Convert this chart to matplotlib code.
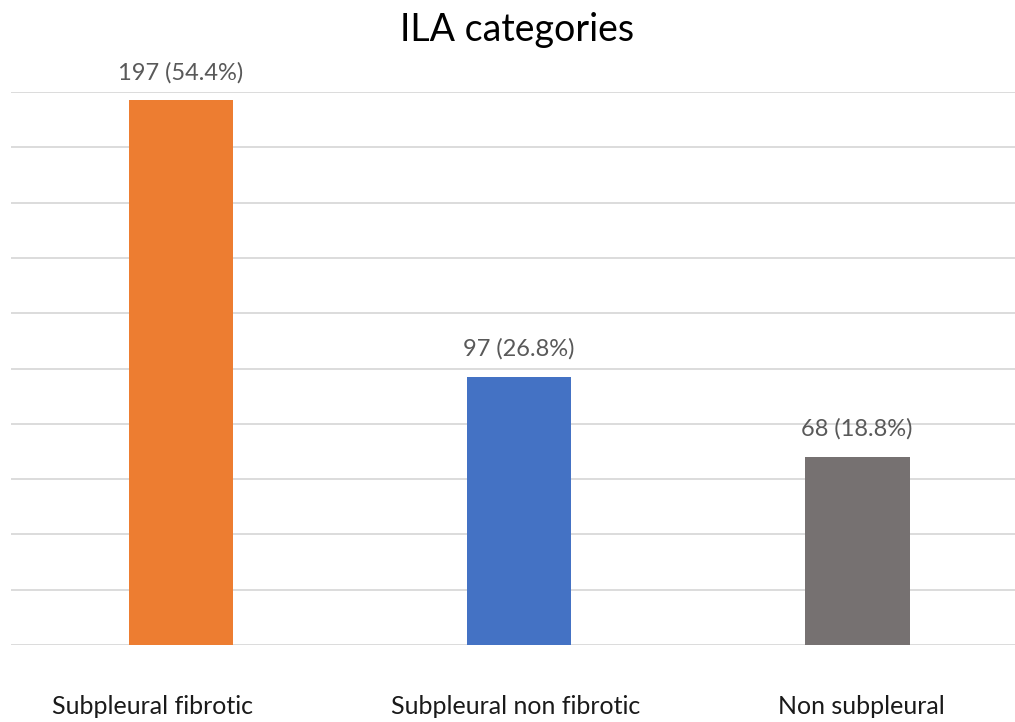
import numpy as np
import matplotlib.pyplot as plt

categories = ["Subpleural fibrotic", "Subpleural non fibrotic", "Non subpleural"]
counts = [197, 97, 68]
labels = ["197 (54.4%)", "97 (26.8%)", "68 (18.8%)"]
colors = ["#ED7D31", "#4472C4", "#767171"]

plt.rcParams['font.family'] = ['Lato', 'DejaVu Sans']

fig = plt.figure(figsize=(10.15, 7.22), dpi=100)
ax = fig.add_axes([11/1015, 77/722, 1 - 11/1015, 553/722])

x = np.arange(len(categories))
ax.bar(x, counts, width=0.31, color=colors, zorder=3)

for xi, c, lab in zip(x, counts, labels):
    ax.annotate(lab, (xi, c), xytext=(0, 20), textcoords="offset points",
                ha="center", va="center", fontsize=17, color="#595959")

ax.set_xlim(-0.503, 2.467)
ax.set_ylim(0, 200)
ax.set_yticks(np.arange(0, 201, 20))
ax.yaxis.grid(True, color="#d9d9d9", linewidth=1.3, zorder=0)
ax.tick_params(left=False, labelleft=False, bottom=False, labelbottom=False)
for s in ax.spines.values():
    s.set_visible(False)

# category labels sit a little off the bar centres in the original
label_x = [152, 516, 861]
for lx, cat in zip(label_x, categories):
    fig.text(lx/1015, 1 - 707/722, cat, ha="center", va="center",
             fontsize=18, color="#1a1a1a")

fig.text(517/1015, 1 - 30/722, "ILA categories", ha="center", va="center",
         fontsize=27, color="#000000")

fig.savefig("out.png", dpi=100)
